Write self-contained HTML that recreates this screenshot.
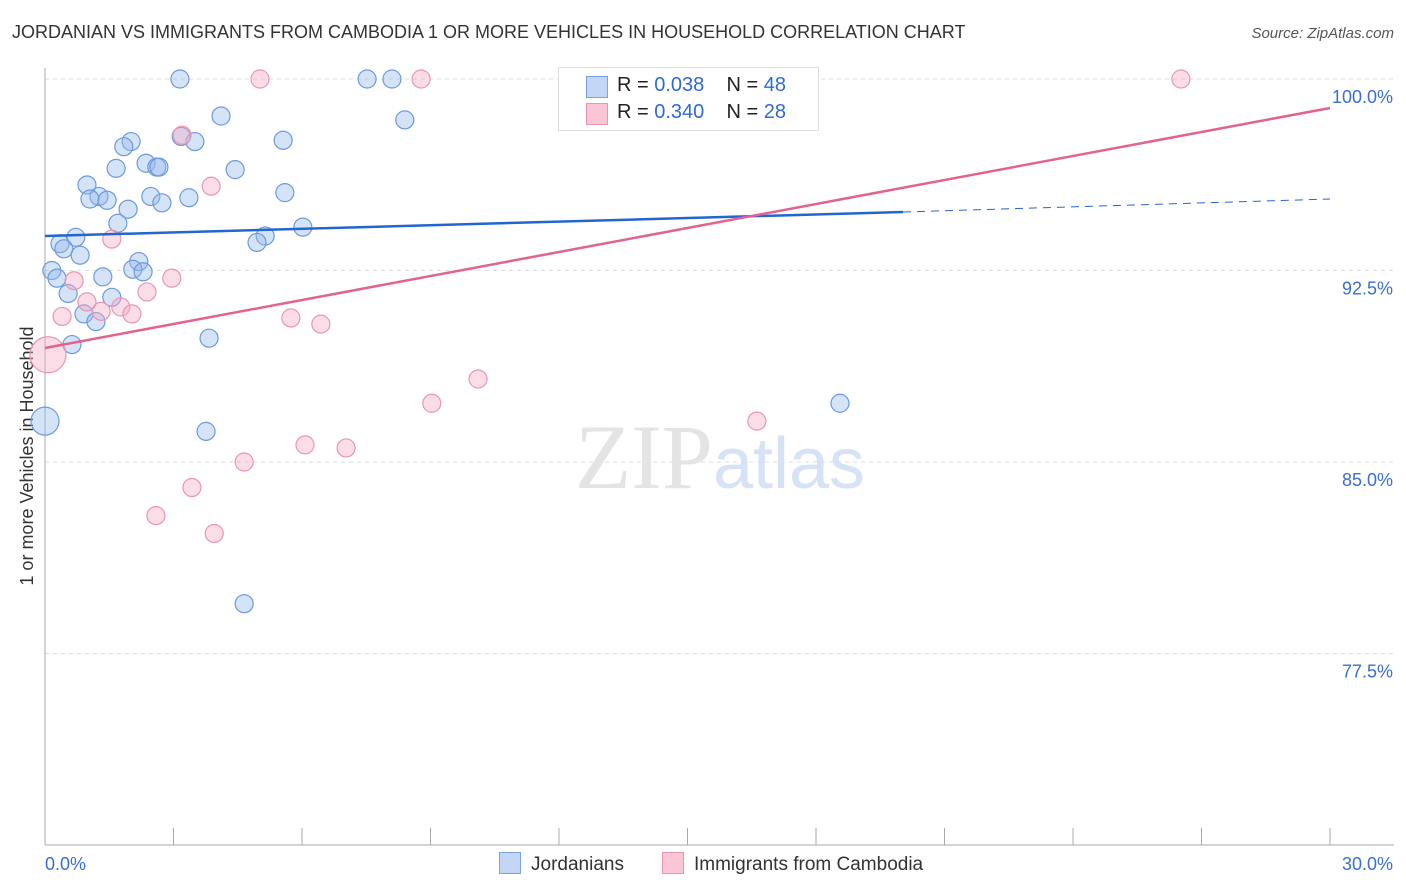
<!DOCTYPE html>
<html><head><meta charset="utf-8"><style>
body{margin:0;background:#fff;font-family:"Liberation Sans",sans-serif;}
#w{position:relative;width:1406px;height:892px;}
.t{position:absolute;white-space:nowrap;}
</style></head><body>
<div id="w">
<div class="t" style="left:12px;top:22px;font-size:18px;color:#333;">JORDANIAN VS IMMIGRANTS FROM CAMBODIA 1 OR MORE VEHICLES IN HOUSEHOLD CORRELATION CHART</div>
<div class="t" style="right:12px;top:25px;font-size:15px;color:#555;font-style:italic;">Source: ZipAtlas.com</div>
<svg id="s" width="1406" height="892" style="position:absolute;left:0;top:0"></svg>
</div>
<script>
const blueX=[3.15,7.52,8.10,4.11,8.40,2.01,3.50,5.56,1.84,3.18,2.36,1.66,2.61,2.66,4.44,0.98,1.26,1.05,1.45,2.47,3.36,2.73,5.60,1.94,1.70,6.02,5.14,4.95,0.72,0.35,0.44,0.82,0.16,0.28,2.19,2.05,2.29,1.35,0.54,1.56,0.91,1.19,0.63,3.83,0.0,3.76,4.65,18.56];
const blueY=[100,100,100,98.55,98.4,97.55,97.55,97.6,97.35,97.75,96.7,96.5,96.55,96.55,96.45,95.85,95.4,95.3,95.25,95.4,95.35,95.15,95.55,94.9,94.35,94.2,93.85,93.6,93.8,93.55,93.35,93.1,92.5,92.2,92.85,92.55,92.45,92.25,91.6,91.45,90.8,90.5,89.6,89.85,86.6,86.2,79.45,87.3];
const pinkX=[5.02,8.78,26.52,12.91,15.01,3.20,3.88,1.56,2.96,0.68,2.38,0.98,1.77,1.31,2.03,0.40,5.74,6.44,0.07,10.11,9.03,16.62,6.07,7.03,4.65,3.43,2.59,3.95];
const pinkY=[100,100,100,100,100,97.8,95.8,93.73,92.2,92.1,91.66,91.27,91.07,90.9,90.8,90.7,90.64,90.4,89.2,88.25,87.3,86.6,85.67,85.55,85.0,84.0,82.9,82.2];
const xs=v=>45+v/30*1285, ys=v=>79+(100-v)/30*766;
const s=document.getElementById('s'),NS='http://www.w3.org/2000/svg';
function mk(t,a){const e=document.createElementNS(NS,t);for(const k in a)e.setAttribute(k,a[k]);s.appendChild(e);return e;}
const yTicks=[100,92.5,85,77.5],yLabels=['100.0%','92.5%','85.0%','77.5%'];
yTicks.forEach((v,i)=>{const g=mk('line',{x1:45,x2:1394,y1:ys(v),y2:ys(v),stroke:'#ddd','stroke-dasharray':'4,4'});


const t=mk('text',{x:1393,y:ys(v)+24,'text-anchor':'end','font-size':18,fill:'#3a6fd0'});t.textContent=yLabels[i];

});
let ax=mk('line',{x1:45,x2:45,y1:68,y2:845,stroke:'#aaa'});


ax=mk('line',{x1:45,x2:1394,y1:845,y2:845,stroke:'#aaa'});


for(let i=1;i<=10;i++){const x=45+i*128.5;const tk=mk('line',{x1:x,x2:x,y1:828,y2:845,stroke:'#aaa'});

}
[['0.0%',45,'start'],['30.0%',1393,'end']].forEach(a=>{const t=mk('text',{x:a[1],y:870,'text-anchor':a[2],'font-size':18,fill:'#3a6fd0'});t.textContent=a[0];

});
let yt=mk('text',{x:0,y:0,'font-size':18,fill:'#333','text-anchor':'middle',transform:'translate(33,456) rotate(-90)'});yt.textContent='1 or more Vehicles in Household';


let wm=mk('text',{x:720,y:488,'text-anchor':'middle','font-size':92,fill:'#e4e4e4','font-family':'Liberation Serif'});wm.innerHTML='ZIP<tspan fill="#d6e2f5" font-family="Liberation Sans" font-size="72">atlas</tspan>';


blueX.forEach((x,i)=>{const c=mk('circle',{cx:xs(x),cy:ys(blueY[i]),r:i==44?14:9,fill:'rgba(150,185,235,0.4)',stroke:'#6a9ae0','stroke-width':1.2});

});
pinkX.forEach((x,i)=>{const c=mk('circle',{cx:xs(x),cy:ys(pinkY[i]),r:i==18?18:9,fill:'rgba(245,170,195,0.4)',stroke:'#ec95b0','stroke-width':1.2});

});
let l=mk('line',{x1:45,y1:236,x2:903,y2:212,stroke:'#2266d0','stroke-width':2.5});


l=mk('line',{x1:903,y1:212,x2:1330,y2:199,stroke:'#2266d0','stroke-width':1,'stroke-dasharray':'8,6'});


l=mk('line',{x1:45,y1:348,x2:1330,y2:108,stroke:'#e4628e','stroke-width':2.5});


</script>
<div class="t" style="left:558px;top:67px;width:259px;height:62px;border:1px solid #ddd;background:#fff;font-size:20px;color:#222;">
<div style="position:absolute;left:27px;top:8px;width:20px;height:20px;background:#c3d6f5;border:1px solid #7aa3e5;"></div>
<div style="position:absolute;left:58px;top:6px;">R = <span style="color:#2f6bd4">0.038</span>&nbsp;&nbsp;&nbsp; N = <span style="color:#2f6bd4">48</span></div>
<div style="position:absolute;left:27px;top:35px;width:20px;height:20px;background:#fac6d6;border:1px solid #ec95b0;"></div>
<div style="position:absolute;left:58px;top:33px;">R = <span style="color:#2f6bd4">0.340</span>&nbsp;&nbsp;&nbsp; N = <span style="color:#2f6bd4">28</span></div>
</div>
<div class="t" style="left:499px;top:852px;font-size:19px;color:#333;"><span style="display:inline-block;width:20px;height:20px;background:#c3d6f5;border:1px solid #7aa3e5;vertical-align:-4px;margin-right:10px;"></span>Jordanians</div>
<div class="t" style="left:662px;top:852px;font-size:19px;color:#333;"><span style="display:inline-block;width:20px;height:20px;background:#fac6d6;border:1px solid #ec95b0;vertical-align:-4px;margin-right:10px;"></span>Immigrants from Cambodia</div>
</body></html>
